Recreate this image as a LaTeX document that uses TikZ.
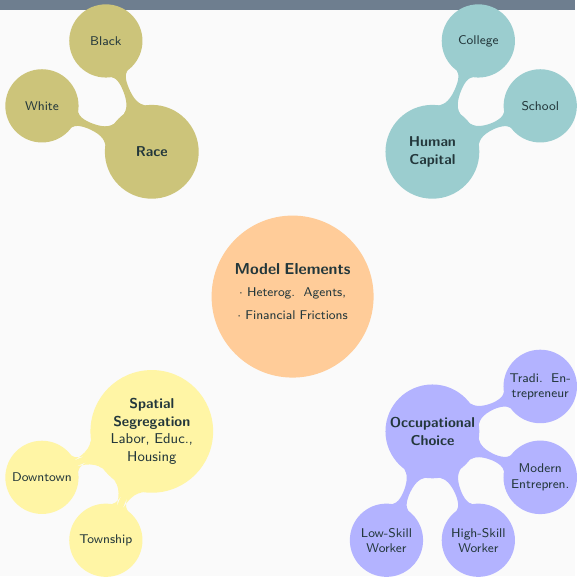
\documentclass[tikz,border=0pt]{standalone}
\usepackage{tikz}
\usetikzlibrary{mindmap}
\definecolor{bgcol}{RGB}{250,250,250}
\definecolor{barcol}{RGB}{110,126,143}
\definecolor{textcol}{RGB}{35,55,59}
\definecolor{racecol}{RGB}{204,196,122}
\definecolor{capcol}{RGB}{155,205,207}
\definecolor{modelcol}{RGB}{255,204,153}
\definecolor{spacecol}{RGB}{255,245,165}
\definecolor{occcol}{RGB}{179,179,255}
\tikzset{linkbar/.style={circle connection bar switch color=from (#1) to (#1), decoration={amplitude=1.2pt}}}

\begin{document}
\begin{tikzpicture}[x=0.63pt, y=-0.63pt, mindmap, text=textcol, font=\sffamily]

\tikzstyle{topic}=[concept, minimum size=58pt, text width=54pt, align=center, inner sep=0pt, font=\sffamily\small]
\tikzstyle{leaf}=[concept, minimum size=45pt, text width=42pt, align=center, inner sep=0pt, font=\sffamily\footnotesize]

\fill[bgcol] (0,0) rectangle (576,577);
\fill[barcol] (0,0) rectangle (576,10);

\node[concept, concept color=modelcol, fill=modelcol, minimum size=101pt, text width=92pt, align=center, inner sep=0pt, font=\sffamily\footnotesize] (model) at (293,297) {{\normalsize\bfseries Model Elements}\\[4pt] $\cdot$ Heterog.\ \ Agents,\\[5pt] $\cdot$ Financial Frictions\\[-3pt]\mbox{}};

\node[topic, concept color=racecol, fill=racecol] (race) at (152,152) {\bfseries Race};
\node[leaf, concept color=racecol, fill=racecol] (black) at (106,41) {Black};
\node[leaf, concept color=racecol, fill=racecol] (white) at (42,106) {White};

\node[topic, concept color=capcol, fill=capcol] (cap) at (433,152) {\bfseries Human\\Capital};
\node[leaf, concept color=capcol, fill=capcol] (college) at (479,41) {College};
\node[leaf, concept color=capcol, fill=capcol] (school) at (541,106) {School};

\node[topic, concept color=spacecol, fill=spacecol, minimum size=68pt, text width=64pt] (space) at (152,432) {{\bfseries Spatial}\\{\bfseries Segregation}\\Labor, Educ.,\\Housing};
\node[leaf, concept color=spacecol, fill=spacecol] (downtown) at (42,478) {Downtown};
\node[leaf, concept color=spacecol, fill=spacecol] (township) at (106,541) {Township};

\node[topic, concept color=occcol, fill=occcol] (occ) at (433,432) {\bfseries Occupational\\\bfseries Choice};
\node[leaf, concept color=occcol, fill=occcol] (tradi) at (541,387) {Tradi.\ \ En-\\trepreneur};
\node[leaf, concept color=occcol, fill=occcol] (modern) at (541,478) {Modern\\Entrepren.};
\node[leaf, concept color=occcol, fill=occcol] (low) at (387,541) {Low-Skill\\Worker};
\node[leaf, concept color=occcol, fill=occcol] (high) at (479,541) {High-Skill\\Worker};

\path (race) to[linkbar=racecol] (black);
\path (race) to[linkbar=racecol] (white);
\path (cap) to[linkbar=capcol] (college);
\path (cap) to[linkbar=capcol] (school);
\path (space) to[linkbar=spacecol] (downtown);
\path (space) to[linkbar=spacecol] (township);
\path (occ) to[linkbar=occcol] (tradi);
\path (occ) to[linkbar=occcol] (modern);
\path (occ) to[linkbar=occcol] (low);
\path (occ) to[linkbar=occcol] (high);

\useasboundingbox (0,0) rectangle (576,577);
\end{tikzpicture}
\end{document}
